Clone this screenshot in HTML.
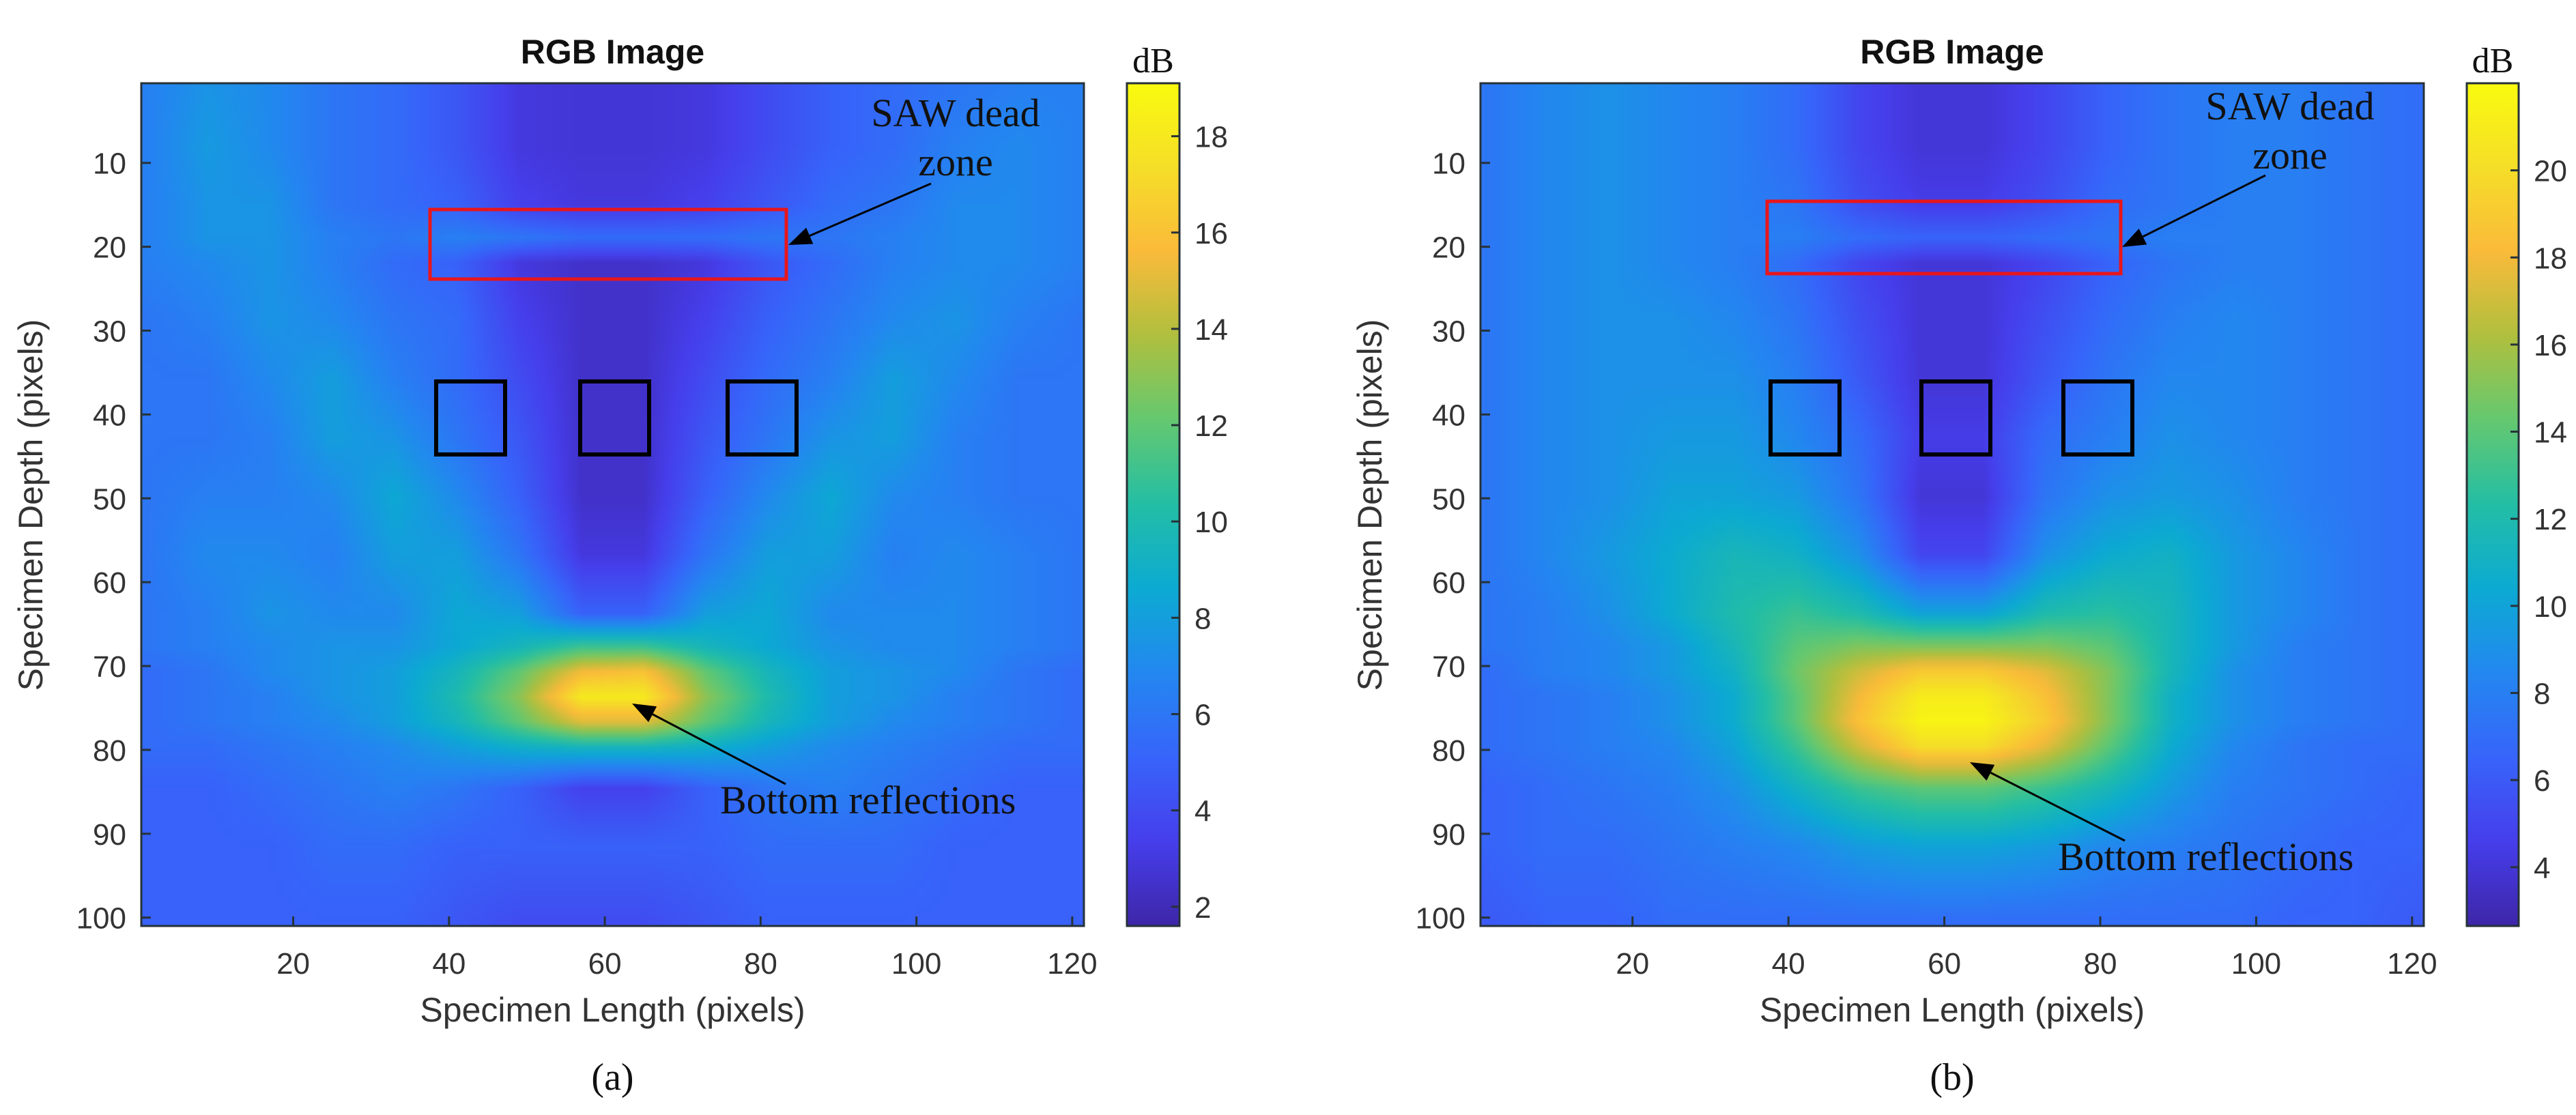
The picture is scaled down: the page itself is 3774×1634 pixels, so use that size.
<!DOCTYPE html>
<html><head><meta charset="utf-8">
<style>
html,body{margin:0;padding:0;background:#fff;}
body{width:3774px;height:1634px;position:relative;overflow:hidden;font-family:"Liberation Sans",sans-serif;}
canvas{position:absolute;}
svg{position:absolute;left:0;top:0;}
</style></head>
<body>
<svg id="ov" width="3774" height="1634"></svg>
<script>
// ---- data ----
const colsX = [1,9,17,25,33,41,49,57,65,73,81,89,97,105,113,121];
const rowsYA = [1,8,15,19,22,29,36,43,50,57,64,68,71,74,77,80,85,92,101];
const valuesA = [
[6.5,7.5,7,6,5.5,4.5,3,2.8,2.8,3,4,5,5.5,6,6.5,6.5],
[6.5,7.8,7,6,5.5,4.5,3,2.8,2.8,3,4,5,5.5,6.5,7,6.5],
[6.5,7.5,7.5,6,5.5,5,3.5,3,3,3.5,4.5,5.5,6,7,7,6.5],
[6.5,7.5,7.5,6.5,6,6.5,6,5.5,5.5,5.5,6,6,6.5,7,7,6.5],
[6.5,7,7.5,6.5,5.5,5,3,2.5,2.5,3,4.5,5.5,6.5,7,7,6.5],
[6,6.5,7.5,7,6,5.5,3.5,2.5,2.5,3.5,5,6,7,7.5,6.5,6],
[6,6,7,8,6.5,5.5,4,2.5,2.5,4,5.5,6.5,8,7,6,6],
[6,6,6.5,8,7.5,6,4.5,2.5,2.5,4.5,6,7.5,8,6.5,6,6],
[6,6.5,6.5,7,8.5,7,5,2.5,2.5,5,7,8.5,7,6.5,6,6],
[6,7,7,6.5,8,8,6,3,3,6,8,8,6.5,7,6.5,6],
[6,6.5,7.5,7,7,8.5,8,5,5,8,8.5,7,7,7,6.5,6],
[6,6.5,7,7.5,7.5,8.5,9.5,11,11,9.5,8.5,7.5,7,7,6.5,6],
[5.5,6,7,7.5,8,9.5,12,15.5,16,12,9.5,8,7.5,7,6,5.5],
[5.5,6,6.5,7.5,8,10,13,18,18,13,10,8,7.5,6.5,6,5.5],
[5.5,6,6.5,7,8,9.5,12,15,15,12,9.5,8,7,6.5,6,5.5],
[5.5,5.5,6,6.5,7,8,9,9.5,9.5,9,8,7,6.5,6,5.5,5.5],
[5,5,5.5,6,6.5,6,5,3.5,3.5,5,6,6.5,6,5.5,5,5],
[5,5,5,5.5,5.5,5,5,5,5,5,5.5,5.5,5.5,5,5,5],
[5,5,5,5,5,4.5,4,4,4,4.5,5,5,5,5,5,5]
];
const rowsYB = [1,8,15,19,22,29,36,43,50,57,64,68,71,74,77,80,85,92,101];
const valuesB = [
[7.5,8.5,9,8.5,8,7,5,4,4,5,6.5,7.5,8,8,7.5,7],
[7.5,8.5,9,8.5,8,7,5,4,4,5,6.5,7.5,8,8,7.5,7],
[7.5,8.5,9,8.5,8,7.5,5.5,4.5,4.5,5.5,7,7.5,8,8,7.5,7],
[7.5,8.5,9,8.5,8,8,7,6.5,6.5,7,7.5,8,8,8,7.5,7],
[7.5,8.5,9,8.5,8,7,5,4,4,5,6.5,7.5,8,8,7.5,7],
[7.5,8.5,9,9,8.5,7.5,5.5,4,4,5.5,7,8,8.5,8,7.5,7],
[7.5,8.5,9,9,9,8,6,4,4,6,7.5,8.5,8.5,8,7.5,7],
[7.5,8.5,9,9.5,9.5,8.5,7,4.5,4.5,7,8,9,8.5,8,7.5,7],
[7.5,8.5,9,10,10,9.5,7.5,4,4,7.5,9,9.5,9,8,7.5,7],
[7.5,8.5,9.5,10.5,11.5,11,9,5,5,9,10.5,11,9.5,8.5,7.5,7],
[7.5,8,9,10.5,12,13,12,10,10,12,12.5,11.5,9.5,8.5,7.5,7],
[7.5,8,8.5,9.5,11.5,14,15,15,15,15,14,11.5,9.5,8,7.5,7],
[7,8,8.5,9.5,11,14.5,17,19,19,17.5,15,11.5,9,8,7.5,7],
[7,7.5,8,9,10.5,14,18,21,21,18.5,15,11,9,8,7.5,7],
[7,7.5,8,9,10.5,14,18.5,21.5,21.5,19,15,11,9,8,7.5,7],
[7,7.5,8,8.5,10,13,17,20,20,17.5,14,10.5,8.5,7.5,7,7],
[6.5,7,7.5,8,9,11,13,14,14,13,11.5,9.5,8,7.5,7,6.5],
[6.5,7,7,7.5,8,8.5,9.5,10,10,9.5,8.5,8,7.5,7,6.5,6.5],
[6,6.5,6.5,7,7,7,7,7,7,7,7,7,7,6.5,6.5,6]
];
const xTicks = [20,40,60,80,100,120];
const yTicks = [10,20,30,40,50,60,70,80,90,100];
const cbTicksA = [2,4,6,8,10,12,14,16,18];
const cbTicksB = [4,6,8,10,12,14,16,18,20];
const cbRangeA = [1.6,19.1];
const cbRangeB = [2.65,22.0];

// ---- colormap (parula-like) ----
const cmap=[[0,62,38,168],[0.1,70,62,235],[0.2,55,100,250],[0.3,35,135,240],[0.4,12,170,210],[0.5,35,190,165],[0.6,100,200,112],[0.7,176,191,62],[0.8,250,186,58],[0.9,245,222,40],[1,249,251,14]];
function col(t){t=Math.max(0,Math.min(1,t));for(let i=1;i<cmap.length;i++){if(t<=cmap[i][0]){const a=cmap[i-1],b=cmap[i],f=(t-a[0])/(b[0]-a[0]);return [a[1]+(b[1]-a[1])*f,a[2]+(b[2]-a[2])*f,a[3]+(b[3]-a[3])*f];}}return cmap[cmap.length-1].slice(1);}
function seg(arr,v){let i=0;while(i<arr.length-2&&v>arr[i+1])i++;let f=(v-arr[i])/(arr[i+1]-arr[i]);return [i,Math.max(0,Math.min(1,f))];}
function interp(xs,ys,vals,x,y){const [i,fx]=seg(xs,x),[j,fy]=seg(ys,y);const a=vals[j][i],b=vals[j][i+1],c=vals[j+1][i],d=vals[j+1][i+1];return (a*(1-fx)+b*fx)*(1-fy)+(c*(1-fx)+d*fx)*fy;}

const NS='http://www.w3.org/2000/svg';
const ov=document.getElementById('ov');
function mk(tag,attrs,txt){const e=document.createElementNS(NS,tag);for(const k in attrs)e.setAttribute(k,attrs[k]);if(txt!==undefined)e.textContent=txt;ov.appendChild(e);return e;}

function panel(P){
  const X0=0.5,X1=121.5,Y0=0.5,Y1=101;
  const sx=v=>P.L+(v-X0)/(X1-X0)*(P.R-P.L);
  const sy=v=>P.T+(v-Y0)/(Y1-Y0)*(P.B-P.T);
  const cv=document.createElement('canvas');
  
  
  const W=121,H=101;cv.width=W;cv.height=H;
  cv.style.left=P.L+'px';cv.style.top=P.T+'px';cv.style.width=(P.R-P.L)+'px';cv.style.height=(P.B-P.T)+'px';
  const ctx=cv.getContext('2d');const im=ctx.createImageData(W,H);
  for(let j=0;j<H;j++)for(let i=0;i<W;i++){const v=interp(colsX,P.rows,P.vals,i+1,j+1);const c=col((v-P.rng[0])/(P.rng[1]-P.rng[0]));const k=(j*W+i)*4;im.data[k]=c[0];im.data[k+1]=c[1];im.data[k+2]=c[2];im.data[k+3]=255;}
  ctx.putImageData(im,0,0);
  document.body.insertBefore(cv,ov);
  let e=mk('rect',{x:P.L,y:P.T,width:P.R-P.L,height:P.B-P.T,fill:'none',stroke:'#263238','stroke-width':3});
  
  xTicks.forEach(t=>{const x=sx(t);
    e=mk('line',{x1:x,y1:P.B,x2:x,y2:P.B-14,stroke:'#263238','stroke-width':3});
    
    e=mk('text',{x:x,y:P.B+70,'text-anchor':'middle','font-size':44,fill:'#333'},t);
    });
  yTicks.forEach(t=>{const y=sy(t);
    e=mk('line',{x1:P.L,y1:y,x2:P.L+14,y2:y,stroke:'#263238','stroke-width':3});
    
    e=mk('text',{x:P.L-22,y:y+16,'text-anchor':'end','font-size':44,fill:'#333'},t);
    });
  const cx=(P.L+P.R)/2;
  e=mk('text',{x:cx,y:93,'text-anchor':'middle','font-size':50,'font-weight':'bold',fill:'#111'},'RGB Image');
  
  e=mk('text',{x:cx,y:1497,'text-anchor':'middle','font-size':50,fill:'#333'},'Specimen Length (pixels)');
  
  e=mk('text',{x:0,y:0,'text-anchor':'middle','font-size':50,fill:'#333',transform:`translate(${P.L-145},740) rotate(-90)`},'Specimen Depth (pixels)');
  
  e=mk('text',{x:cx,y:1597,'text-anchor':'middle','font-size':56,'font-family':'"Liberation Serif",serif',fill:'#111'},P.cap);
  
  const defs=mk('defs',{});const g=document.createElementNS(NS,'linearGradient');g.setAttribute('id','g'+P.id);g.setAttribute('x1',0);g.setAttribute('y1',1);g.setAttribute('x2',0);g.setAttribute('y2',0);
  for(let s=0;s<=20;s++){const c=col(s/20);const st=document.createElementNS(NS,'stop');st.setAttribute('offset',s/20);st.setAttribute('stop-color',`rgb(${c.map(Math.round).join(',')})`);g.appendChild(st);}defs.appendChild(g);
  e=mk('rect',{x:P.cbL,y:P.T,width:P.cbR-P.cbL,height:P.B-P.T,fill:`url(#g${P.id})`,stroke:'#263238','stroke-width':3});
  
  const cy=v=>P.B-(v-P.rng[0])/(P.rng[1]-P.rng[0])*(P.B-P.T);
  P.cbt.forEach(t=>{const y=cy(t);
    e=mk('line',{x1:P.cbR,y1:y,x2:P.cbR-12,y2:y,stroke:'#263238','stroke-width':3});
    
    e=mk('text',{x:P.cbR+22,y:y+16,'font-size':44,fill:'#333'},t);
    });
  e=mk('text',{x:(P.cbL+P.cbR)/2,y:106,'text-anchor':'middle','font-size':52,'font-family':'"Liberation Serif",serif',fill:'#111'},'dB');
  
  e=mk('rect',{x:P.red[0],y:P.red[1],width:P.red[2]-P.red[0],height:P.red[3]-P.red[1],fill:'none',stroke:'#e8161b','stroke-width':5});
  
  P.sq.forEach(x=>{e=mk('rect',{x:x,y:559,width:101,height:107,fill:'none',stroke:'#000','stroke-width':6});
    });
  const ser='"Liberation Serif",serif';
  e=mk('text',{x:P.saw[0],y:P.saw[1],'text-anchor':'middle','font-size':58,'font-family':ser,fill:'#111'},'SAW dead');
  
  e=mk('text',{x:P.saw[0],y:P.saw[1]+72,'text-anchor':'middle','font-size':58,'font-family':ser,fill:'#111'},'zone');
  
  e=mk('text',{x:P.bot[0],y:P.bot[1],'font-size':58,'font-family':ser,fill:'#111'},'Bottom reflections');
  
  [P.a1,P.a2].forEach((a,n)=>{const [x1,y1,x2,y2]=a;const ang=Math.atan2(y2-y1,x2-x1);const L=34,w=13;
    const bx=x2-L*Math.cos(ang),by=y2-L*Math.sin(ang);
    e=mk('line',{x1:x1,y1:y1,x2:bx,y2:by,stroke:'#000','stroke-width':3});
    
    e=mk('polygon',{points:`${x2},${y2} ${bx-w*Math.sin(ang)},${by+w*Math.cos(ang)} ${bx+w*Math.sin(ang)},${by-w*Math.cos(ang)}`,fill:'#000'});
    });
}
panel({id:'panel-a',L:207,R:1588,T:122,B:1357,cbL:1651,cbR:1728,rows:rowsYA,vals:valuesA,rng:cbRangeA,cbt:cbTicksA,cap:'(a)',
  red:[630,307,1152,409],sq:[639,850,1066],saw:[1400,185],bot:[1055,1192],a1:[1364,269,1155,359],a2:[1151,1149,926,1031]});
panel({id:'panel-b',L:2169,R:3551,T:122,B:1357,cbL:3614,cbR:3690,rows:rowsYB,vals:valuesB,rng:cbRangeB,cbt:cbTicksB,cap:'(b)',
  red:[2589,295,3107,401],sq:[2594,2815,3023],saw:[3355,175],bot:[3015,1275],a1:[3319,257,3109,362],a2:[3113,1232,2886,1117]});
</script>
</body></html>
